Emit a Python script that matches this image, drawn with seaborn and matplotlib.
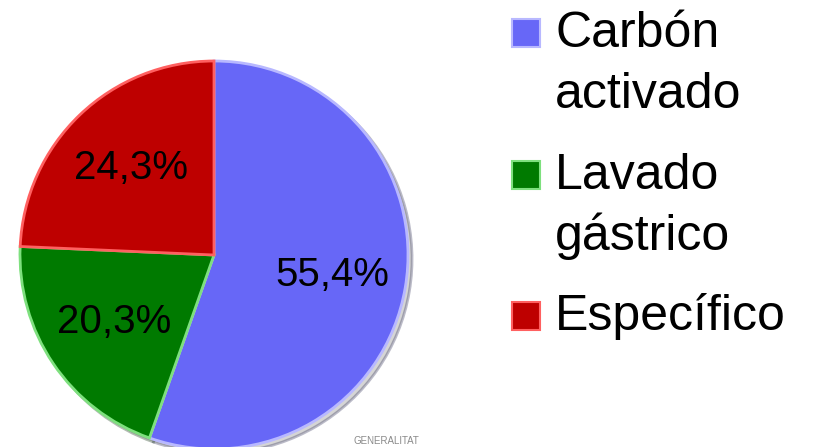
import matplotlib
matplotlib.use('Agg')
import matplotlib.pyplot as plt
import matplotlib.patches as mpatches
import seaborn as sns

# ---- data ----
categories = ['Carbón activado', 'Lavado gástrico', 'Específico']
legend_lines = [['Carbón', 'activado'], ['Lavado', 'gástrico'], ['Específico']]
values = [55.4, 20.3, 24.3]
colors = ['#6767f7', '#007a00', '#be0000']
edge_colors = ['#b8b8ff', '#7ee07e', '#ff6060']

sns.set_style('white')
plt.rcParams['font.family'] = ['Liberation Sans', 'DejaVu Sans']

W, H = 818, 447
fig = plt.figure(figsize=(W / 100, H / 100), dpi=100)

# ---- pie ----
cx, cy, r = 214, 192, 194   # pixels, from bottom-left
lim = 1.02
ax = fig.add_axes([(cx - lim * r) / W, (cy - lim * r) / H, 2 * lim * r / W, 2 * lim * r / H])

def fmt(p):
    return f'{p:.1f}%'.replace('.', ',')

wedges, texts, autotexts = ax.pie(
    values, colors=colors, startangle=90, counterclock=False,
    autopct=fmt, pctdistance=0.62,
    wedgeprops=dict(linewidth=2),
    textprops=dict(fontsize=29, color='black'),
    shadow=dict(ox=0.015, oy=-0.015, facecolor='#777777', alpha=0.3),
)
for w, ec in zip(wedges, edge_colors):
    w.set_edgecolor(ec)
    w.set_clip_on(False)
ax.set_xlim(-lim, lim)
ax.set_ylim(-lim, lim)
ax.axis('off')

# ---- legend (handles aligned with first line, like the original) ----
baselines = [47, 189, 330]
line_step = 60.5
sq = 28
for lines, base, col, ec in zip(legend_lines, baselines, colors, edge_colors):
    fig.patches.append(mpatches.Rectangle(
        (512 / W, 1 - base / H), sq / W, sq / H, transform=fig.transFigure,
        facecolor=col, edgecolor=ec, linewidth=1.5))
    for k, txt in enumerate(lines):
        fig.text(555 / W, 1 - (base + k * line_step) / H, txt,
                 fontsize=36, va='baseline', ha='left', color='black')

# ---- small watermark at the bottom edge ----
fig.text(353 / W, 1.5 / H, 'GENERALITAT', fontsize=7, color='#8a8a8a',
         va='bottom', ha='left')

fig.savefig('out.png', dpi=100)
